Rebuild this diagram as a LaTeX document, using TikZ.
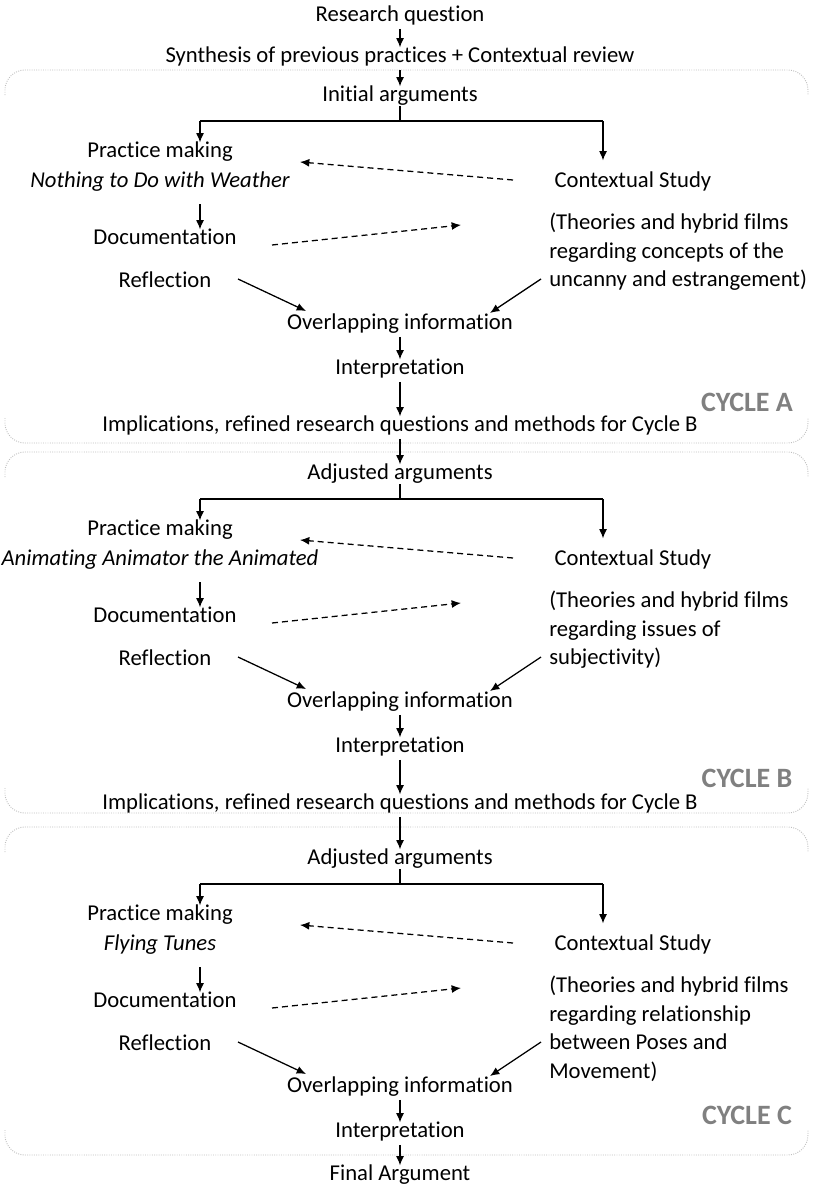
\documentclass[tikz,border=0pt]{standalone}
\usepackage{fontspec}
\setmainfont{Carlito}[Ligatures=NoCommon]
\usetikzlibrary{arrows.meta}

\tikzset{
  lbl/.style={font=\fontsize{17}{21.4}\selectfont, text height=9pt, text depth=2.5pt, inner sep=1pt},
  note/.style={font=\fontsize{17}{21.4}\selectfont, align=left, anchor=north west, inner sep=0pt},
  cyc/.style={font=\fontsize{21}{24}\selectfont\bfseries, text=black!50},
  arr/.style={-{Latex[length=7pt,width=6pt]}, line width=0.95pt, shorten <=2pt, shorten >=1pt},
  dasharr/.style={arr, dash pattern=on 4.5pt off 3pt},
  cyclebox/.style={gray!50, densely dotted, line width=0.7pt, rounded corners=15pt}
}

\begin{document}
\begin{tikzpicture}[x=0.75pt, y=-0.75pt]
\useasboundingbox (0,0) rectangle (813,1189);

\draw[cyclebox] (5,95) |- (808,70) -- (808,95);
\draw[cyclebox] (5,418) |- (808,443) -- (808,418);
\draw[cyclebox] (5,477) |- (808,452) -- (808,477);
\draw[cyclebox] (5,788) |- (808,813) -- (808,788);
\draw[cyclebox] (5,852) |- (808,827) -- (808,852);
\draw[cyclebox] (5,1130) |- (808,1155) -- (808,1130);

\node[lbl] (rq) at (400,17) {Research question};
\node[lbl] (syn) at (400,58) {Synthesis of previous practices + Contextual review};

\foreach \cy/\dy/\hd/\film/\theory in {
  A/0/Initial arguments/Nothing to Do with Weather/{(Theories and hybrid films\\regarding concepts of the\\uncanny and estrangement)},
  B/378/Adjusted arguments/Animating Animator the Animated/{(Theories and hybrid films\\regarding issues of\\subjectivity)},
  C/763/Adjusted arguments/Flying Tunes/{(Theories and hybrid films\\regarding relationship\\between Poses and\\Movement)}} {
  \node[lbl] (head\cy) at (400,97+\dy) {\hd};
  \node[lbl] (pm\cy) at (160,153+\dy) {Practice making};
  \node[lbl] (film\cy) at (160,183+\dy) {\itshape\film};
  \node[lbl, anchor=west] (cs\cy) at (553,183+\dy) {Contextual Study};
  \node[note] (th\cy) at (549,213+\dy) {\theory};
  \node[lbl] (doc\cy) at (165,240+\dy) {Documentation};
  \node[lbl] (refl\cy) at (165,283+\dy) {Reflection};
  \node[lbl] (ov\cy) at (400,325+\dy) {Overlapping information};
  \node[lbl] (int\cy) at (400,370+\dy) {Interpretation};

  \coordinate (bl\cy) at (200,121+\dy);
  \coordinate (br\cy) at (603,121+\dy);
  \coordinate (dcs\cy) at (513,180+\dy);
  \coordinate (dpm\cy) at (300,162+\dy);
  \coordinate (ddoc\cy) at (272,245+\dy);
  \coordinate (dth\cy) at (461,225+\dy);
  \coordinate (rs\cy) at (238,279+\dy);
  \coordinate (re\cy) at (306,311+\dy);
  \coordinate (ts\cy) at (541,279+\dy);
  \coordinate (te\cy) at (490,313+\dy);

  \draw[line width=0.95pt] (head\cy.south) -- (head\cy.south |- bl\cy) (bl\cy) -- (br\cy);
  \draw[arr, shorten <=0pt] (bl\cy) -- (bl\cy |- pm\cy.north);
  \draw[arr, shorten <=0pt, shorten >=10pt] (br\cy) -- (br\cy |- cs\cy.north);
  \draw[arr, shorten <=9pt] (film\cy.south -| bl\cy) -- (doc\cy.north -| bl\cy);
  \draw[dasharr, shorten <=0pt, shorten >=0pt] (dcs\cy) -- (dpm\cy);
  \draw[dasharr, shorten <=0pt, shorten >=0pt] (ddoc\cy) -- (dth\cy);
  \draw[arr, shorten <=0pt, shorten >=0pt] (rs\cy) -- (re\cy);
  \draw[arr, shorten <=0pt, shorten >=0pt] (ts\cy) -- (te\cy);
  \draw[arr] (ov\cy) -- (int\cy);
}

\node[lbl] (impA) at (400,427) {Implications, refined research questions and methods for Cycle B};
\node[lbl] (impB) at (400,805) {Implications, refined research questions and methods for Cycle B};
\node[lbl] (fin) at (400,1176) {Final Argument};

\node[cyc] (cycA) at (747,402) {CYCLE A};
\node[cyc] (cycB) at (747,778) {CYCLE B};
\node[cyc] (cycC) at (747,1115) {CYCLE C};

\draw[arr] (rq) -- (syn);
\draw[arr] (syn) -- (headA);
\draw[arr] (intA) -- (impA);
\draw[arr] (impA) -- (headB);
\draw[arr] (intB) -- (impB);
\draw[arr] (impB) -- (headC);
\draw[arr] (intC) -- (fin);
\end{tikzpicture}
\end{document}
